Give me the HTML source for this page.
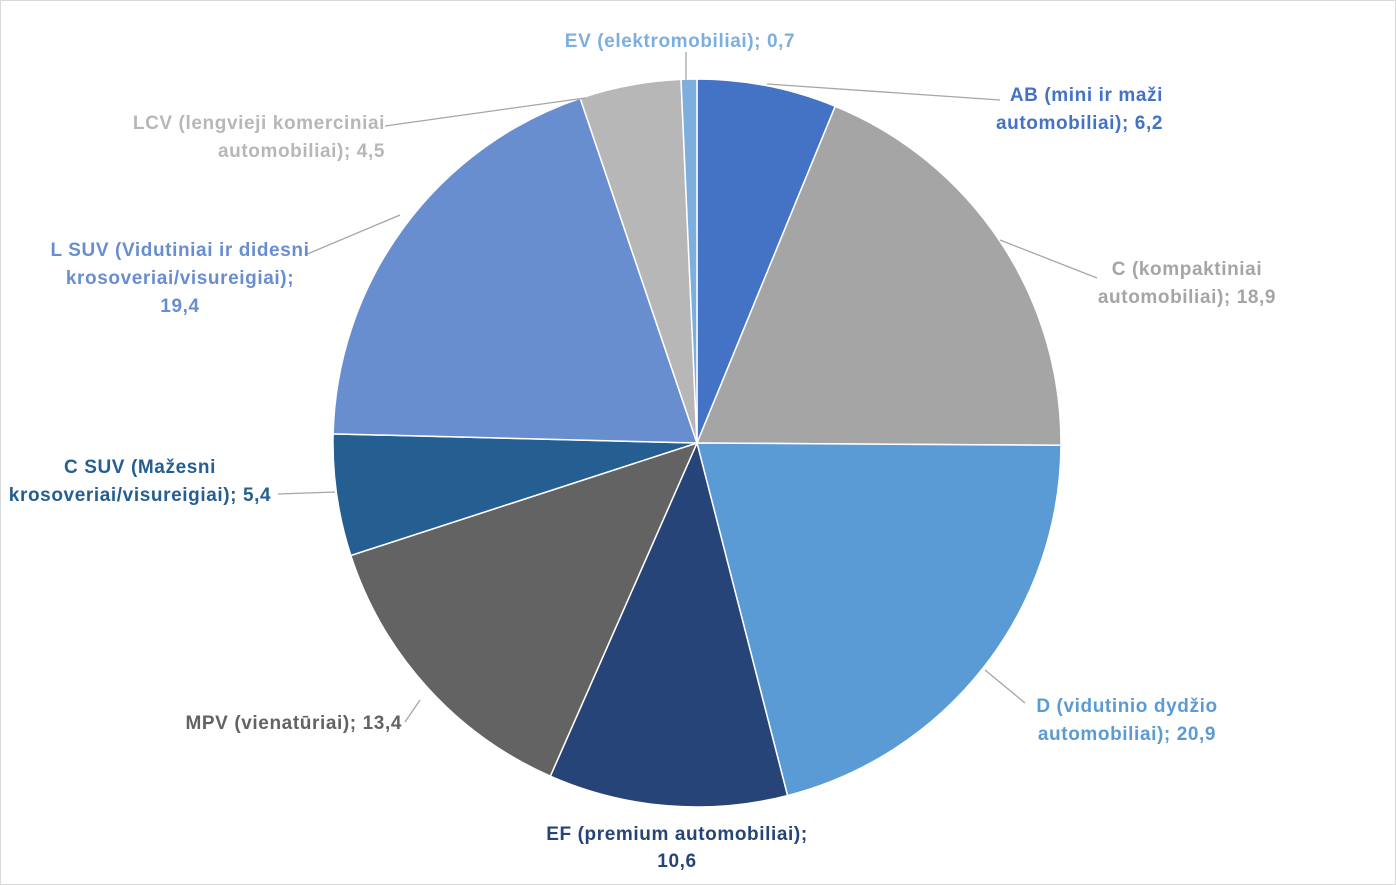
<!DOCTYPE html>
<html><head><meta charset="utf-8"><style>
html,body{margin:0;padding:0;background:#fff}
svg{display:block}
text{font-family:"Liberation Sans",sans-serif;font-size:19px;font-weight:bold;letter-spacing:0.6px}
</style></head><body>
<svg id="s" width="1396" height="885" viewBox="0 0 1396 885">
<rect x="0.5" y="0.5" width="1395" height="884" fill="#fff" stroke="#d9d9d9"/>
<g id="p"></g>
<g stroke="#a6a6a6" stroke-width="1.3" fill="none">
<polyline points="686,80 686,52"/>
<polyline points="767,84 1000,100"/>
<polyline points="1000,240 1097,278"/>
<polyline points="985,670 1025,703"/>
<polyline points="405,722 420,700"/>
<polyline points="278,494 335,492"/>
<polyline points="305,255 400,215"/>
<polyline points="385,126 585,98"/>
</g>
<g>
<text x="680" y="47" text-anchor="middle" fill="#7CAFDD">EV (elektromobiliai); 0,7</text>
<text x="1163" y="101" text-anchor="end" fill="#4472C4">AB (mini ir maži</text>
<text x="1163" y="129" text-anchor="end" fill="#4472C4">automobiliai); 6,2</text>
<text x="1187" y="275" text-anchor="middle" fill="#A5A5A5">C (kompaktiniai</text>
<text x="1187" y="303" text-anchor="middle" fill="#A5A5A5">automobiliai); 18,9</text>
<text x="1127" y="712" text-anchor="middle" fill="#5B9BD5">D (vidutinio dydžio</text>
<text x="1127" y="740" text-anchor="middle" fill="#5B9BD5">automobiliai); 20,9</text>
<text x="677" y="840" text-anchor="middle" fill="#264478">EF (premium automobiliai);</text>
<text x="677" y="867" text-anchor="middle" fill="#264478">10,6</text>
<text x="402" y="729" text-anchor="end" fill="#636363">MPV (vienatūriai); 13,4</text>
<text x="140" y="473" text-anchor="middle" fill="#255E91">C SUV (Mažesni</text>
<text x="140" y="501" text-anchor="middle" fill="#255E91">krosoveriai/visureigiai); 5,4</text>
<text x="180" y="256" text-anchor="middle" fill="#698ED0">L SUV (Vidutiniai ir didesni</text>
<text x="180" y="284" text-anchor="middle" fill="#698ED0">krosoveriai/visureigiai);</text>
<text x="180" y="312" text-anchor="middle" fill="#698ED0">19,4</text>
<text x="385" y="129" text-anchor="end" fill="#B7B7B7">LCV (lengvieji komerciniai</text>
<text x="385" y="157" text-anchor="end" fill="#B7B7B7">automobiliai); 4,5</text>
</g>
</svg>
<script>
var d=[[6.2,"#4472C4"],[18.9,"#A5A5A5"],[20.9,"#5B9BD5"],[10.6,"#264478"],[13.4,"#636363"],[5.4,"#255E91"],[19.4,"#698ED0"],[4.5,"#B7B7B7"],[0.7,"#7CAFDD"]];
var cx=697,cy=443,r=364,a=0,g=document.getElementById("p"),h="";
d.forEach(function(e){var a2=a+e[0]/100*2*Math.PI;
var x1=cx+r*Math.sin(a),y1=cy-r*Math.cos(a),x2=cx+r*Math.sin(a2),y2=cy-r*Math.cos(a2);
h+='<path d="M'+cx+','+cy+' L'+x1+','+y1+' A'+r+','+r+' 0 '+((a2-a)>Math.PI?1:0)+' 1 '+x2+','+y2+' Z" fill="'+e[1]+'" stroke="#fff" stroke-width="1.5"/>';a=a2;});
g.innerHTML=h;
</script>
</body></html>
